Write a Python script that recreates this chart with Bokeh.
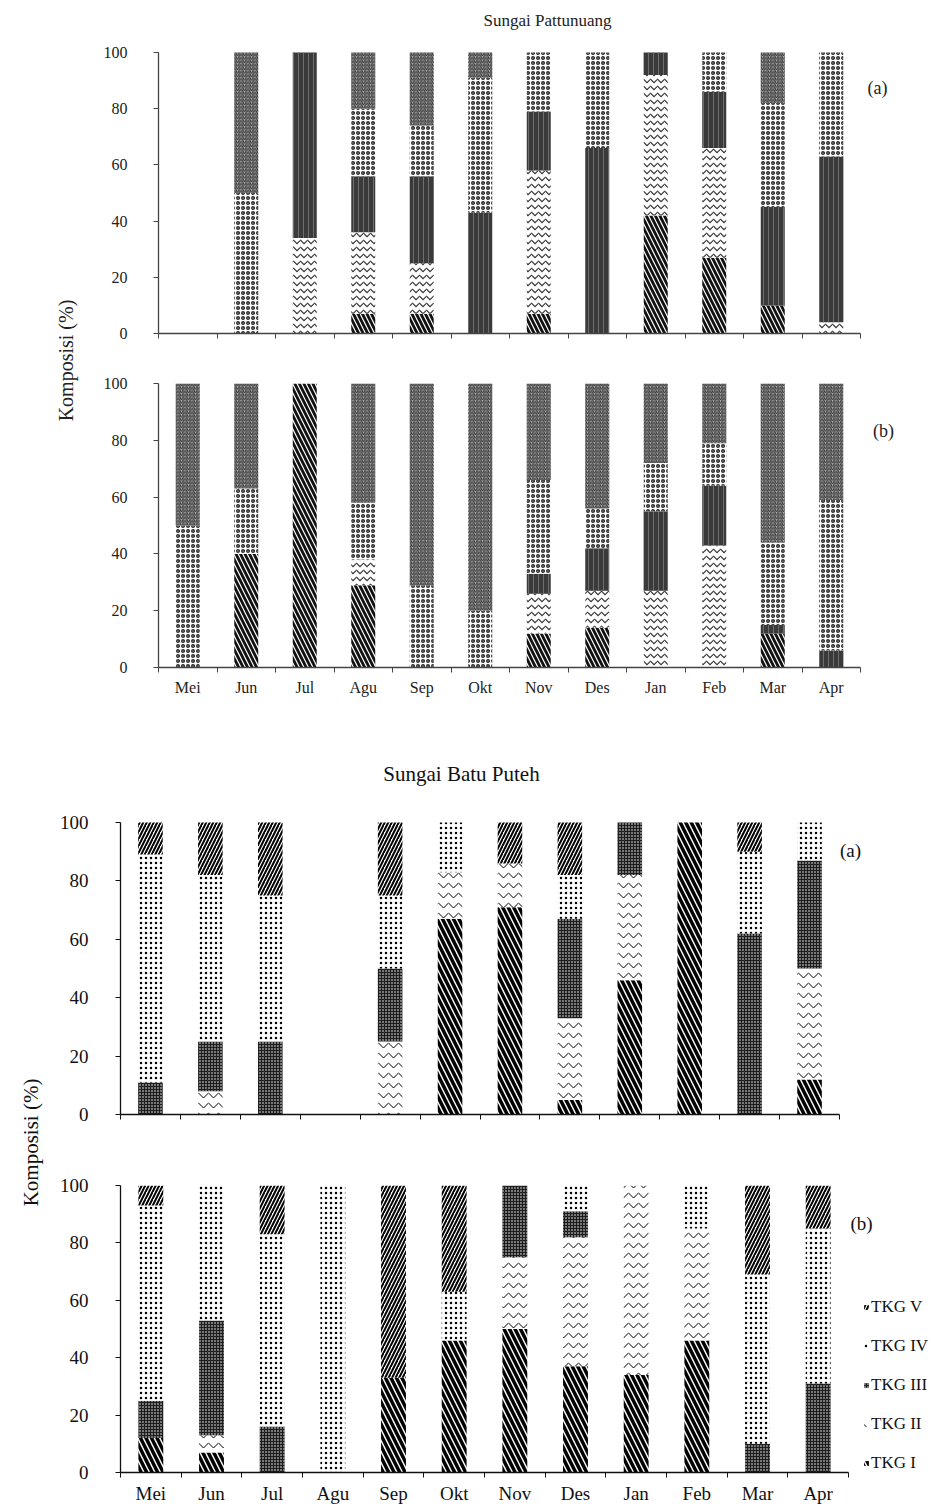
from math import pi
from bokeh.plotting import figure
from bokeh.layouts import column, row
from bokeh.models import ColumnDataSource, Range1d, FixedTicker, Label, Legend, LegendItem
from bokeh.transform import stack
from bokeh.embed import file_html
from bokeh.resources import INLINE

months = ["Mei", "Jun", "Jul", "Agu", "Sep", "Okt", "Nov", "Des", "Jan", "Feb", "Mar", "Apr"]
classes = ["TKG I", "TKG II", "TKG III", "TKG IV", "TKG V"]
keys = ["I", "II", "III", "IV", "V"]
yticks = [0, 20, 40, 60, 80, 100]

# Sungai Pattunuang (a)  -- percent of each class per month
pa_I   = [0, 0, 0, 7, 7, 0, 7, 0, 42, 27, 10, 0]
pa_II  = [0, 0, 34, 29, 18, 0, 51, 0, 50, 39, 0, 4]
pa_III = [0, 0, 66, 20, 31, 43, 21, 66, 8, 20, 35, 59]
pa_IV  = [0, 50, 0, 24, 18, 48, 21, 34, 0, 14, 37, 37]
pa_V   = [0, 50, 0, 20, 26, 9, 0, 0, 0, 0, 18, 0]

# Sungai Pattunuang (b)
pb_I   = [0, 40, 100, 29, 0, 0, 12, 14, 0, 0, 12, 0]
pb_II  = [0, 0, 0, 9, 0, 0, 14, 13, 27, 43, 0, 0]
pb_III = [0, 0, 0, 0, 0, 0, 7, 15, 28, 21, 3, 6]
pb_IV  = [50, 23, 0, 20, 29, 20, 33, 14, 17, 15, 29, 53]
pb_V   = [50, 37, 0, 42, 71, 80, 34, 44, 28, 21, 56, 41]

# Sungai Batu Puteh (a)
ba_I   = [0, 0, 0, 0, 0, 67, 71, 5, 46, 100, 0, 12]
ba_II  = [0, 8, 0, 0, 25, 16, 15, 28, 36, 0, 0, 38]
ba_III = [11, 17, 25, 0, 25, 0, 0, 34, 18, 0, 62, 37]
ba_IV  = [78, 57, 50, 0, 25, 17, 0, 15, 0, 0, 28, 13]
ba_V   = [11, 18, 25, 0, 25, 0, 14, 18, 0, 0, 10, 0]

# Sungai Batu Puteh (b)
bb_I   = [12, 7, 0, 0, 33, 46, 50, 37, 34, 46, 0, 0]
bb_II  = [0, 6, 0, 0, 0, 0, 25, 45, 66, 39, 0, 0]
bb_III = [13, 40, 16, 0, 0, 0, 25, 9, 0, 0, 10, 31]
bb_IV  = [68, 47, 67, 100, 0, 17, 0, 9, 0, 15, 59, 54]
bb_V   = [7, 0, 17, 0, 67, 37, 0, 0, 0, 0, 31, 15]

SERIF = "Liberation Serif"

style_top = {
    "I":   dict(fill_color="white", hatch_pattern="left_diagonal_line", hatch_color="#111111", hatch_scale=9, hatch_weight=2.8),
    "II":  dict(fill_color="white", hatch_pattern="horizontal_wave", hatch_color="#333333", hatch_scale=7, hatch_weight=1.2),
    "III": dict(fill_color="#3a3a3a", hatch_pattern="vertical_line", hatch_color="#6e6e6e", hatch_scale=5, hatch_weight=1),
    "IV":  dict(fill_color="white", hatch_pattern="ring", hatch_color="#2a2a2a", hatch_scale=5, hatch_weight=1.5),
    "V":   dict(fill_color="#b0b0b0", hatch_pattern="right_diagonal_line", hatch_color="#2e2e2e", hatch_scale=3.5, hatch_weight=1),
}
style_bot = {
    "I":   dict(fill_color="white", hatch_pattern="left_diagonal_line", hatch_color="black", hatch_scale=11, hatch_weight=3.5),
    "II":  dict(fill_color="white", hatch_pattern="horizontal_wave", hatch_color="black", hatch_scale=10, hatch_weight=1),
    "III": dict(fill_color="#1e1e1e", hatch_pattern="dot", hatch_color="white", hatch_scale=3, hatch_weight=1),
    "IV":  dict(fill_color="white", hatch_pattern="dot", hatch_color="black", hatch_scale=5, hatch_weight=2.6),
    "V":   dict(fill_color="white", hatch_pattern="right_diagonal_line", hatch_color="black", hatch_scale=7, hatch_weight=2),
}


def panel(vals, styles, plot_w, plot_h, extra_right, extra_top, bl, bt, bb, font_size, show_x,
          axis_color, text_color, y_standoff, x_standoff):
    n = len(months)
    data = dict(x=list(range(n)))
    for k, v in zip(keys, vals):
        data[k] = v
    src = ColumnDataSource(data)
    fw = plot_w + extra_right
    fh = plot_h + extra_top
    p = figure(frame_width=fw, frame_height=fh, min_border_left=bl, min_border_right=0,
               min_border_top=bt, min_border_bottom=bb,
               x_range=Range1d(-0.5, -0.5 + n * fw / plot_w),
               y_range=Range1d(0, 100 * fh / plot_h),
               toolbar_location=None, tools="", output_backend="svg")
    rends = {}
    for i, k in enumerate(keys):
        rends[k] = p.vbar(x="x", width=0.41, bottom=stack(*keys[:i]), top=stack(*keys[:i + 1]),
                          source=src, line_color=None, **styles[k])
    p.xgrid.visible = False
    p.ygrid.visible = False
    p.outline_line_color = None
    p.background_fill_color = "white"
    p.border_fill_color = "white"

    xa = p.xaxis[0]
    xa.bounds = (-0.5, n - 0.5)
    xa.ticker = FixedTicker(ticks=list(range(n)) if show_x else [],
                            minor_ticks=[i - 0.5 for i in range(n + 1)])
    xa.major_label_overrides = {i: m for i, m in enumerate(months)}
    xa.major_tick_line_color = None
    xa.major_tick_out = 0
    xa.major_tick_in = 0
    xa.minor_tick_line_color = axis_color
    xa.minor_tick_out = 5
    xa.minor_tick_in = 0
    xa.axis_line_color = axis_color
    xa.axis_line_width = 1.3
    xa.major_label_standoff = x_standoff
    xa.major_label_text_font = SERIF
    xa.major_label_text_color = text_color
    xa.major_label_text_font_size = font_size

    ya = p.yaxis[0]
    ya.bounds = (0, 100)
    ya.ticker = FixedTicker(ticks=yticks, minor_ticks=[])
    ya.major_tick_out = 5
    ya.major_tick_in = 0
    ya.major_tick_line_color = axis_color
    ya.minor_tick_line_color = None
    ya.axis_line_color = axis_color
    ya.axis_line_width = 1.3
    ya.major_label_standoff = y_standoff
    ya.major_label_text_font = SERIF
    ya.major_label_text_font_size = font_size
    ya.major_label_text_color = text_color
    return p, rends


def txt(p, text, x, y, size, color, angle=0.0):
    p.add_layout(Label(x=x, y=y, x_units="screen", y_units="screen", text=text,
                       text_font=SERIF, text_font_size=size, text_color=color,
                       text_align="center", text_baseline="middle", angle=angle))


# ---------------- Sungai Pattunuang ----------------
# canvas x 90..931, frame left 158 ; top_a canvas y 0..358 ; top_b 358..720
top_a, _ = panel([pa_I, pa_II, pa_III, pa_IV, pa_V], style_top, 702, 281, 71, 52, 68, 0, 25,
                 "16px", False, "#444444", "#222222", 26, 6)
top_b, _ = panel([pb_I, pb_II, pb_III, pb_IV, pb_V], style_top, 702, 284, 71, 0, 68, 25, 53,
                 "16px", True, "#444444", "#222222", 26, 6)
txt(top_a, "Sungai Pattunuang", 389, 313, "17px", "#222222")
txt(top_a, "(a)", 719, 246, "18px", "#222222")
txt(top_b, "(b)", 725, 237, "18px", "#222222")

lab_top = figure(width=90, height=720, min_border=0, x_axis_type=None, y_axis_type=None,
                 toolbar_location=None, tools="", output_backend="svg")
lab_top.outline_line_color = None
lab_top.xgrid.visible = False
lab_top.ygrid.visible = False
txt(lab_top, "Komposisi (%)", 65, 360, "20px", "#222222", angle=pi / 2)

# ---------------- Sungai Batu Puteh ----------------
# canvas x 48..931 ; bot_a canvas y 720..1150 ; bot_b 1150..1507
bot_a, _ = panel([ba_I, ba_II, ba_III, ba_IV, ba_V], style_bot, 719, 292, 92, 102, 72, 0, 36,
                 "19px", False, "#111111", "#111111", 27, 8)
bot_b, rb = panel([bb_I, bb_II, bb_III, bb_IV, bb_V], style_bot, 728, 287, 85, 0, 70, 35, 35,
                  "19px", True, "#111111", "#111111", 27, 5)
txt(bot_a, "Sungai Batu Puteh", 341, 341, "21px", "#111111")
txt(bot_a, "(a)", 730, 264, "19px", "#111111")
txt(bot_b, "(b)", 741, 249, "19px", "#111111")

legend = Legend(items=[LegendItem(label=c, renderers=[rb[k]])
                       for c, k in reversed(list(zip(classes, keys)))],
                location=(749, -1), orientation="vertical", padding=0, margin=0,
                glyph_width=6, glyph_height=6, label_standoff=2, spacing=19, label_height=16,
                label_text_font=SERIF, label_text_font_size="17px", label_text_color="#111111",
                border_line_color=None, background_fill_alpha=0)
bot_b.add_layout(legend)

lab_bot = figure(width=48, height=787, min_border=0, x_axis_type=None, y_axis_type=None,
                 toolbar_location=None, tools="", output_backend="svg")
lab_bot.outline_line_color = None
lab_bot.xgrid.visible = False
lab_bot.ygrid.visible = False
txt(lab_bot, "Komposisi (%)", 30, 365, "21px", "#111111", angle=pi / 2)

layout = column(row(lab_top, column(top_a, top_b)), row(lab_bot, column(bot_a, bot_b)))
open("out.html", "w").write(file_html(layout, INLINE))
